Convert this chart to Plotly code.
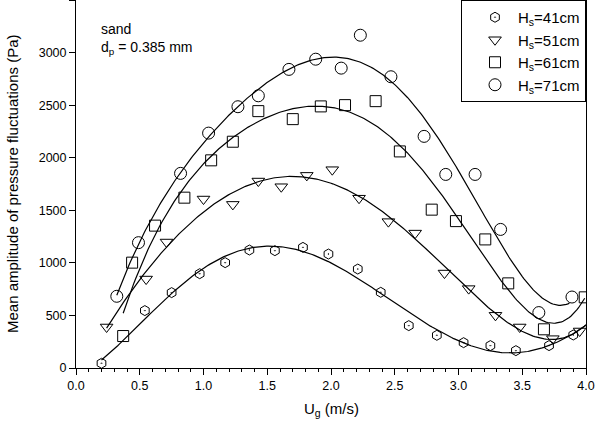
import numpy as np
import plotly.graph_objects as go

# ---- measured points ----
# Hs = 41 cm
x41 = [0.20, 0.54, 0.75, 0.97, 1.17, 1.36, 1.56, 1.78, 1.98, 2.21, 2.39, 2.61, 2.83, 3.04, 3.25, 3.45, 3.71, 3.90]
y41 = [45, 546, 717, 897, 1002, 1122, 1116, 1147, 1084, 941, 720, 403, 311, 241, 213, 165, 213, 314]
# Hs = 51 cm
x51 = [0.24, 0.55, 0.71, 1.00, 1.23, 1.43, 1.61, 1.81, 2.01, 2.22, 2.45, 2.66, 2.89, 3.08, 3.29, 3.48, 3.74, 3.95]
y51 = [390, 846, 1198, 1607, 1556, 1778, 1724, 1832, 1886, 1615, 1392, 1283, 903, 755, 501, 390, 279, 352]
# Hs = 61 cm
x61 = [0.37, 0.44, 0.62, 0.85, 1.06, 1.23, 1.43, 1.70, 1.92, 2.11, 2.35, 2.54, 2.79, 2.98, 3.21, 3.39, 3.67, 3.99]
y61 = [304, 1002, 1354, 1620, 1975, 2152, 2443, 2367, 2488, 2500, 2538, 2060, 1506, 1397, 1223, 805, 368, 672]
# Hs = 71 cm
x71 = [0.32, 0.49, 0.82, 1.04, 1.27, 1.43, 1.67, 1.88, 2.08, 2.23, 2.47, 2.73, 2.90, 3.13, 3.33, 3.63, 3.89]
y71 = [682, 1192, 1851, 2234, 2485, 2589, 2840, 2937, 2852, 3165, 2770, 2203, 1841, 1841, 1318, 527, 675]

names = ["H<sub>s</sub>=41cm", "H<sub>s</sub>=51cm", "H<sub>s</sub>=61cm", "H<sub>s</sub>=71cm"]
symbols = ["hexagon-open-dot", "triangle-down-open", "square-open", "circle-open"]
sizes = [10, 11, 11, 12]
fit_end = [4.0, 4.0, None, 3.87]
FIT_DEGREE = 5

series = [(x41, y41), (x51, y51), (x61, y61), (x71, y71)]
FONT = "Liberation Sans, Arial"

fig = go.Figure()
# polynomial regression curves computed from the measured points
for (xs, ys), xe in zip(series, fit_end):
    c = np.polyfit(xs, ys, FIT_DEGREE)
    xf = np.linspace(min(xs), xe if xe else max(xs), 300)
    fig.add_trace(go.Scatter(x=xf, y=np.polyval(c, xf), mode="lines",
                             line=dict(color="black", width=1.2),
                             showlegend=False, hoverinfo="skip"))
for (xs, ys), nm, sym, sz in zip(series, names, symbols, sizes):
    fig.add_trace(go.Scatter(x=xs, y=ys, mode="markers", name=nm,
                             marker=dict(symbol=sym, size=sz, color="black",
                                         line=dict(color="black", width=1))))

axis_common = dict(showline=True, linecolor="black", linewidth=1, mirror=True,
                   ticks="outside", tickcolor="black", ticklen=6, showgrid=False,
                   zeroline=False, tickfont=dict(family=FONT, size=12.5, color="black"))

fig.update_xaxes(range=[0, 4], dtick=0.5, tickformat=".1f",
                 minor=dict(dtick=0.1, ticks="outside", ticklen=3, tickcolor="black"),
                 **axis_common)
fig.update_yaxes(range=[0, 3500], dtick=500, **axis_common)

fig.add_annotation(xref="paper", yref="paper", x=0.045, y=0.948, xanchor="left", yanchor="top",
                   text="sand<br>d<sub>p</sub> = 0.385 mm", showarrow=False, align="left",
                   font=dict(family=FONT, size=14, color="black"))
fig.add_annotation(xref="paper", yref="paper", x=-0.1255, y=0.5, xanchor="center", yanchor="middle",
                   text="Mean amplitude of pressure fluctuations (Pa)", textangle=-90, showarrow=False,
                   font=dict(family=FONT, size=15, color="black"))
fig.add_annotation(xref="paper", yref="paper", x=0.5, y=-0.114, xanchor="center", yanchor="middle",
                   text="U<sub>g</sub> (m/s)", showarrow=False,
                   font=dict(family=FONT, size=15, color="black"))

fig.update_layout(
    width=595, height=433,
    margin=dict(l=76, r=9, t=0, b=65),
    paper_bgcolor="white", plot_bgcolor="white",
    legend=dict(x=1, y=1, xanchor="right", yanchor="top", bordercolor="black", borderwidth=1,
                bgcolor="white", font=dict(family=FONT, size=15, color="black"),
                tracegroupgap=0, itemwidth=36, indentation=10),
)

fig.write_html("out.html")
